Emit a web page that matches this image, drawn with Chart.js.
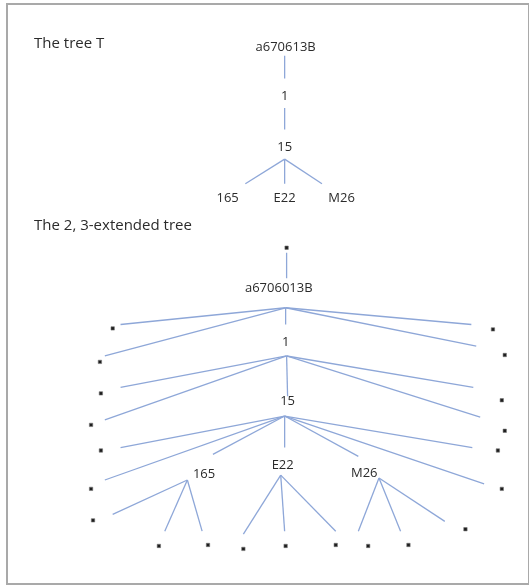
<!DOCTYPE html>
<html>
<head>
<meta charset="utf-8">
<script src="https://cdn.jsdelivr.net/npm/chart.js@4.4.1/dist/chart.umd.min.js"></script>
<style>
  body { margin: 0; background: #fff; }
  #wrap { position: relative; width: 529px; height: 585px; }
  #frame { position: absolute; left: 6px; top: 3px; width: 520px; height: 578px; border: 2px solid #a9a9a9; }
  #tree { position: absolute; left: 0; top: 0; }
</style>
</head>
<body>
<div id="wrap">
  <div id="frame"></div>
  <canvas id="tree" width="529" height="585"></canvas>
</div>
<script>
var titles = ['The tree T', 'The 2, 3-extended tree'];
var titleX = [30, 30];
var titleY = [40, 225];

// the tree T
var treeLabels = ['a670613B', '1', '15', '165', 'E22', 'M26'];
var treeX = [286, 285, 285, 227, 285, 343];
var treeY = [43, 93, 145, 197, 197, 197];
var treeEdges = [
  [285, 52, 285, 75],
  [285, 105, 285, 127],
  [285, 157, 245, 182],
  [285, 157, 285, 182],
  [285, 157, 323, 182]
];

// the 2, 3-extended tree
var extLabels = ['a6706013B', '1', '15', '165', 'E22', 'M26'];
var extX = [279, 286, 288, 203, 283, 366];
var extY = [288, 343, 403, 477, 468, 476];
var extEdges = [
  [287, 252, 287, 278],
  [286, 308, 118, 325], [286, 308, 102, 357], [286, 308, 286, 325], [286, 308, 475, 325], [286, 308, 480, 347],
  [287, 357, 118, 389], [287, 357, 102, 422], [287, 357, 288, 398], [287, 357, 477, 389], [287, 357, 484, 419],
  [285, 418, 118, 450], [285, 418, 102, 483], [285, 418, 212, 457], [285, 418, 285, 450],
  [285, 418, 360, 459], [285, 418, 476, 450], [285, 418, 488, 487],
  [186, 483, 110, 518], [186, 483, 163, 535], [186, 483, 201, 535],
  [281, 478, 243, 538], [281, 478, 285, 535], [281, 478, 337, 535],
  [381, 481, 360, 535], [381, 481, 403, 535], [381, 481, 448, 525]
];
var starX = [287, 110, 97, 497, 509, 98, 88, 506, 509, 98, 88, 502, 506,
             90, 157, 207, 243, 286, 337, 370, 411, 469];
var starY = [247, 329, 363, 330, 356, 395, 427, 402, 433, 453, 492, 453, 492,
             524, 550, 549, 553, 550, 549, 550, 549, 533];

var datasets = [];
treeEdges.concat(extEdges).forEach(function(e) {
  datasets.push({
    data: [{x: e[0], y: e[1]}, {x: e[2], y: e[3]}],
    showLine: true,
    borderColor: '#8ea7d8',
    borderWidth: 1.3,
    pointRadius: 0
  });
});
datasets.push({
  data: starX.map(function(x, i) { return {x: x, y: starY[i]}; }),
  pointStyle: 'rect',
  pointRadius: 2.4,
  backgroundColor: '#1e1e1e',
  borderColor: '#777',
  borderWidth: 0.6
});

var labelPlugin = {
  id: 'nodeLabels',
  afterDraw: function(chart) {
    var ctx = chart.ctx,
        xs = chart.scales.x,
        ys = chart.scales.y;
    ctx.save();
    ctx.fillStyle = '#2b2b2b';
    ctx.textBaseline = 'middle';

    ctx.font = '15px "Open Sans"';
    ctx.textAlign = 'left';
    titles.forEach(function(t, i) {
      ctx.fillText(t, xs.getPixelForValue(titleX[i]), ys.getPixelForValue(titleY[i]));
    });

    ctx.font = '13px "Open Sans"';
    ctx.textAlign = 'center';
    treeLabels.forEach(function(t, i) {
      ctx.fillText(t, xs.getPixelForValue(treeX[i]), ys.getPixelForValue(treeY[i]));
    });
    extLabels.forEach(function(t, i) {
      ctx.fillText(t, xs.getPixelForValue(extX[i]), ys.getPixelForValue(extY[i]));
    });
    ctx.restore();
  }
};

var canvas = document.getElementById('tree');
if (canvas) {
  var treeChart = new Chart(canvas, {
    type: 'scatter',
    data: { datasets: datasets },
    plugins: [labelPlugin],
    options: {
      responsive: false,
      animation: false,
      layout: { padding: 0 },
      plugins: {
        legend: { display: false },
        tooltip: { enabled: false }
      },
      scales: {
        x: { type: 'linear', min: 0, max: 529, display: false },
        y: { type: 'linear', min: 0, max: 585, reverse: true, display: false }
      }
    }
  });
}
</script>
</body>
</html>
